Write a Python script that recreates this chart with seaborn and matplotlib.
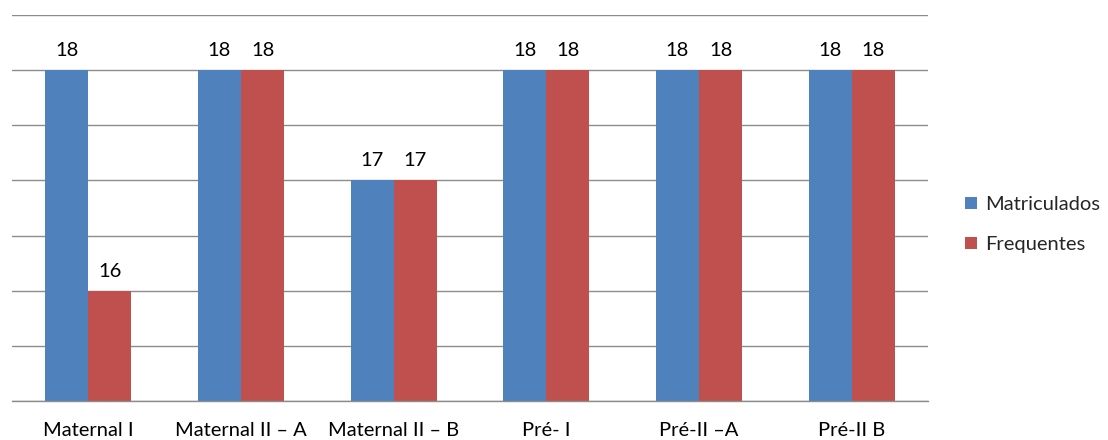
import matplotlib
matplotlib.use("Agg")
import matplotlib.pyplot as plt
import seaborn as sns
import pandas as pd
from matplotlib.patches import Patch

turmas = ["Maternal I", "Maternal II – A", "Maternal II – B", "Pré- I", "Pré-II –A", "Pré-II B"]
matriculados = [18, 18, 17, 18, 18, 18]
frequentes = [16, 18, 17, 18, 18, 18]
series = ["Matriculados", "Frequentes"]
cores = ["#4F81BD", "#C0504D"]

df = pd.DataFrame({
    "turma": turmas * 2,
    "valor": matriculados + frequentes,
    "serie": [series[0]] * len(turmas) + [series[1]] * len(turmas),
})

sns.set_theme(style="white")
plt.rcParams["font.family"] = ["Lato", "DejaVu Sans"]
FS = 14.5

fig = plt.figure(figsize=(11.08, 4.4), dpi=100)
ax = fig.add_axes([12 / 1108, 1 - 401 / 440, (928 - 12) / 1108, (401 - 15) / 440])

sns.barplot(data=df, x="turma", y="valor", hue="serie", palette=cores,
            width=0.565, gap=0, saturation=1, ax=ax, legend=False,
            edgecolor="none", linewidth=0)

ax.set_ylim(15, 18.5)
ax.set_xlim(-0.5, len(turmas) - 0.5)
ax.set_yticks([15 + 0.5 * i for i in range(8)])
ax.set_yticklabels([])
ax.yaxis.grid(True, color="#8C8C8C", linewidth=1)
ax.set_axisbelow(True)
ax.tick_params(axis="y", length=0)
for s in ["left", "right", "top"]:
    ax.spines[s].set_visible(False)
ax.spines["bottom"].set_color("#8C8C8C")
ax.spines["bottom"].set_linewidth(1)

ax.set_xticks(range(len(turmas)))
ax.set_xticklabels(turmas, fontsize=FS, color="#000000")
ax.tick_params(axis="x", which="major", length=0, pad=15)
ax.set_xticks([i - 0.5 for i in range(len(turmas) + 1)], minor=True)
ax.tick_params(axis="x", which="minor", length=5, color="#8C8C8C", width=1, direction="out")
ax.set_xlabel("")
ax.set_ylabel("")

for cont in ax.containers:
    ax.bar_label(cont, fmt="%d", padding=8, fontsize=FS, color="#000000")

handles = [Patch(facecolor=c, edgecolor="none") for c in cores]
fig.legend(handles, series, loc="center left", bbox_to_anchor=(0.855, 0.49),
           frameon=False, fontsize=FS, handlelength=0.55, handleheight=0.55,
           handletextpad=0.45, labelspacing=1.15)

fig.savefig("out.png", dpi=100)
